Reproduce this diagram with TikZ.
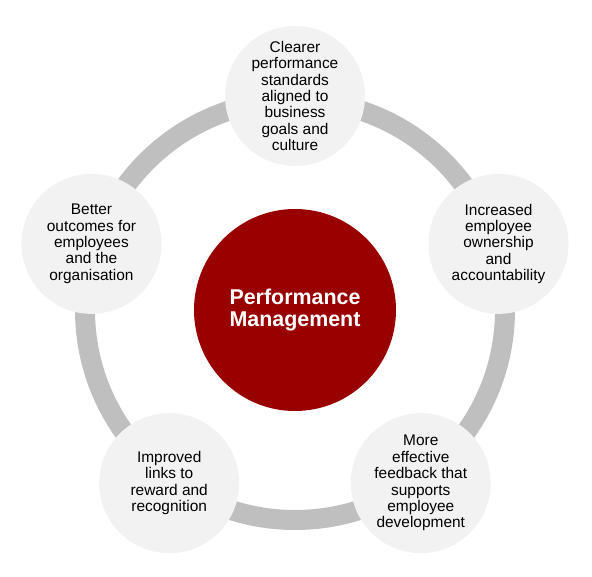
\documentclass[tikz,border=0pt]{standalone}
\usepackage{fontspec}
\setmainfont{Liberation Sans}
\usetikzlibrary{positioning,calc}
\definecolor{pmred}{RGB}{153,0,0}
\definecolor{ringgray}{RGB}{191,191,191}
\definecolor{bubblegray}{RGB}{242,242,242}
\tikzset{
  hub/.style={circle, fill=pmred, text=white, align=center, minimum size=202bp, inner sep=0pt, font=\fontsize{21.5}{22.5}\selectfont\bfseries},
  bubble/.style={circle, fill=bubblegray, align=center, minimum size=140bp, inner sep=0pt, font=\fontsize{15.5}{16.4}\selectfont},
  ring/.style={draw=ringgray, line width=20bp},
}

\begin{document}
\begin{tikzpicture}[x=1bp, y=1bp]
    \useasboundingbox (-295,-267) rectangle (297,310);
    \node[hub] (pm) at (0,0) {Performance\\Management};
    \draw[ring] (pm.center) circle[radius=210];
    \node[bubble] (standards) at (90:214) {Clearer\\performance\\standards\\aligned to\\business\\goals and\\culture};
    \node[bubble] (ownership) at (18:214) {Increased\\employee\\ownership\\and\\accountability};
    \node[bubble] (feedback) at (-54:214) {More\\effective\\feedback that\\supports\\employee\\development};
    \node[bubble] (reward) at (-126:214) {Improved\\links to\\reward and\\recognition};
    \node[bubble] (outcomes) at (162:214) {Better\\outcomes for\\employees\\and the\\organisation};
  \end{tikzpicture}
\end{document}
